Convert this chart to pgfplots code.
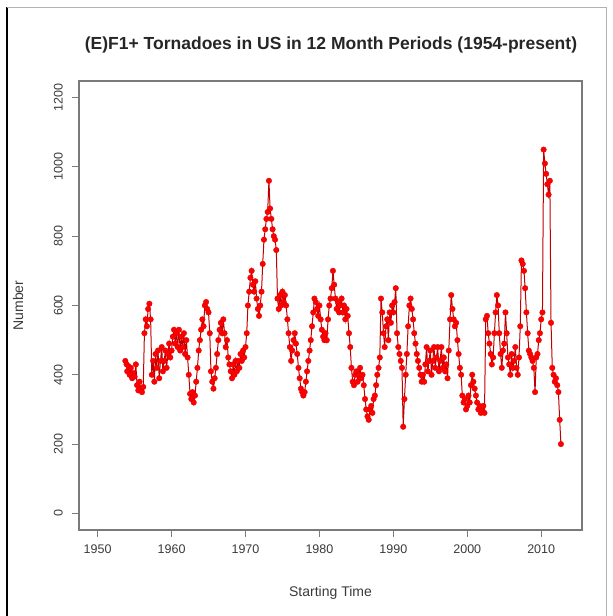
\documentclass[border=0pt]{standalone}
\usepackage{fontspec}
\setmainfont{Liberation Sans}
\usepackage{pgfplots}
\usepackage{pgfplotstable}
\pgfplotsset{compat=1.18}
\definecolor{axgray}{HTML}{7A7A7A}
\definecolor{txtgray}{HTML}{3A3A3A}
\definecolor{linered}{HTML}{C00000}
\pgfplotstableread{
year val
1953.75 440
1953.92 430
1954.00 410
1954.17 425
1954.33 400
1954.50 420
1954.67 390
1954.83 405
1955.00 395
1955.17 430
1955.33 370
1955.50 355
1955.67 380
1955.83 360
1956.00 350
1956.17 365
1956.33 520
1956.50 560
1956.67 540
1956.83 590
1957.00 605
1957.17 560
1957.33 400
1957.50 440
1957.67 380
1957.83 460
1958.00 420
1958.17 470
1958.33 390
1958.50 440
1958.67 480
1958.83 410
1959.00 440
1959.17 470
1959.33 420
1959.50 460
1959.67 490
1959.83 450
1960.00 470
1960.17 510
1960.33 530
1960.50 490
1960.67 520
1960.83 480
1961.00 530
1961.17 470
1961.33 510
1961.50 480
1961.67 520
1961.83 460
1962.00 500
1962.17 450
1962.33 400
1962.50 345
1962.67 330
1962.83 350
1963.00 320
1963.17 340
1963.33 380
1963.50 420
1963.67 470
1963.83 500
1964.00 530
1964.17 560
1964.33 540
1964.50 600
1964.67 610
1964.83 590
1965.00 580
1965.17 520
1965.33 410
1965.50 380
1965.67 360
1965.83 390
1966.00 420
1966.17 460
1966.33 500
1966.50 530
1966.67 550
1966.83 520
1967.00 560
1967.17 520
1967.33 480
1967.50 500
1967.67 450
1967.83 430
1968.00 410
1968.17 390
1968.33 430
1968.50 400
1968.67 440
1968.83 410
1969.00 440
1969.17 420
1969.33 460
1969.50 440
1969.67 470
1969.83 450
1970.00 480
1970.17 520
1970.33 600
1970.50 640
1970.67 680
1970.83 700
1971.00 660
1971.17 640
1971.33 670
1971.50 620
1971.67 590
1971.83 570
1972.00 600
1972.17 640
1972.33 720
1972.50 790
1972.67 820
1972.83 850
1973.00 870
1973.17 960
1973.33 880
1973.50 850
1973.67 820
1973.83 800
1974.00 790
1974.17 760
1974.33 620
1974.50 590
1974.67 630
1974.83 600
1975.00 640
1975.17 610
1975.33 630
1975.50 600
1975.67 560
1975.83 520
1976.00 480
1976.17 440
1976.33 470
1976.50 500
1976.67 520
1976.83 490
1977.00 460
1977.17 420
1977.33 390
1977.50 360
1977.67 350
1977.83 340
1978.00 350
1978.17 380
1978.33 410
1978.50 440
1978.67 470
1978.83 500
1979.00 540
1979.17 580
1979.33 620
1979.50 610
1979.67 590
1979.83 570
1980.00 600
1980.17 560
1980.33 530
1980.50 510
1980.67 500
1980.83 520
1981.00 500
1981.17 560
1981.33 600
1981.50 620
1981.67 650
1981.83 700
1982.00 660
1982.17 620
1982.33 590
1982.50 610
1982.67 580
1982.83 600
1983.00 620
1983.17 580
1983.33 600
1983.50 560
1983.67 590
1983.83 570
1984.00 520
1984.17 480
1984.33 420
1984.50 380
1984.67 370
1984.83 400
1985.00 410
1985.17 380
1985.33 400
1985.50 420
1985.67 390
1985.83 400
1986.00 370
1986.17 330
1986.33 300
1986.50 280
1986.67 270
1986.83 300
1987.00 310
1987.17 290
1987.33 330
1987.50 340
1987.67 370
1987.83 400
1988.00 420
1988.17 450
1988.33 620
1988.50 580
1988.67 520
1988.83 480
1989.00 540
1989.17 560
1989.33 500
1989.50 580
1989.67 550
1989.83 600
1990.00 580
1990.17 610
1990.33 650
1990.50 520
1990.67 480
1990.83 460
1991.00 440
1991.17 420
1991.33 250
1991.50 330
1991.67 400
1991.83 460
1992.00 540
1992.17 600
1992.33 620
1992.50 590
1992.67 560
1992.83 520
1993.00 490
1993.17 460
1993.33 440
1993.50 420
1993.67 400
1993.83 380
1994.00 400
1994.17 380
1994.33 430
1994.50 480
1994.67 410
1994.83 440
1995.00 470
1995.17 400
1995.33 440
1995.50 480
1995.67 420
1995.83 450
1996.00 480
1996.17 410
1996.33 440
1996.50 480
1996.67 420
1996.83 450
1997.00 410
1997.17 430
1997.33 390
1997.50 470
1997.67 560
1997.83 630
1998.00 590
1998.17 560
1998.33 540
1998.50 550
1998.67 500
1998.83 460
1999.00 420
1999.17 400
1999.33 340
1999.50 320
1999.67 330
1999.83 300
2000.00 310
2000.17 340
2000.33 320
2000.50 370
2000.67 400
2000.83 380
2001.00 360
2001.17 340
2001.33 320
2001.50 300
2001.67 310
2001.83 290
2002.00 300
2002.17 310
2002.33 290
2002.50 560
2002.67 570
2002.83 520
2003.00 490
2003.17 460
2003.33 430
2003.50 450
2003.67 520
2003.83 580
2004.00 630
2004.17 600
2004.33 520
2004.50 460
2004.67 420
2004.83 470
2005.00 490
2005.17 580
2005.33 520
2005.50 450
2005.67 430
2005.83 400
2006.00 460
2006.17 420
2006.33 440
2006.50 480
2006.67 420
2006.83 400
2007.00 450
2007.17 540
2007.33 730
2007.50 720
2007.67 700
2007.83 650
2008.00 580
2008.17 520
2008.33 470
2008.50 460
2008.67 450
2008.83 440
2009.00 420
2009.17 350
2009.33 450
2009.50 460
2009.67 500
2009.83 520
2010.00 560
2010.17 580
2010.33 1050
2010.50 1010
2010.67 980
2010.83 950
2011.00 920
2011.17 960
2011.33 550
2011.50 420
2011.67 400
2011.83 380
2012.00 390
2012.17 370
2012.33 350
2012.50 270
2012.67 200
}\tornado
\begin{document}
\begin{tikzpicture}[x=1pt,y=1pt]
\path[use as bounding box] (0,0) rectangle (613,616);
\draw[black, line width=1.6pt] (7,0) -- (7,608.5);
\draw[gray!60, line width=0.6pt] (7,608.5) -- (606,608.5) -- (606,0);
\begin{axis}[
  at={(79pt,86pt)}, anchor=south west,
  width=503pt, height=449pt, scale only axis,
  xmin=1947.48, xmax=2015.52, ymin=-48, ymax=1248,
  axis line style={axgray, line width=1.1pt},
  xtick={1950,1960,...,2010},
  ytick={0,200,...,1200},
  tick align=outside, tick pos=left,
  major tick length=7pt,
  tick style={axgray, line width=0.9pt},
  /pgf/number format/assume math mode=true,
  xticklabel={\pgfmathprintnumber[1000 sep={},fixed]{\tick}},
  yticklabel={\pgfmathprintnumber[1000 sep={},fixed]{\tick}},
  ticklabel style={font=\fontsize{12.5}{14}\selectfont, text=txtgray},
  xticklabel style={anchor=north, yshift=-8pt, inner sep=0pt},
  yticklabel style={rotate=90, anchor=south, inner sep=0pt, yshift=9pt},
  clip=false,
]
\addplot[linered, line width=1pt, mark=*, mark size=2.8pt,
  mark options={fill=red, draw=red!85!black, line width=0.3pt}]
  table[x=year, y=val] {\tornado};
\end{axis}
\node[font=\bfseries\fontsize{17.5}{20}\selectfont, text=black!85] at (331,571) {(E)F1+ Tornadoes in US in 12 Month Periods (1954-present)};
\node[font=\fontsize{14}{16}\selectfont, text=txtgray] at (330.5,23) {Starting Time};
\node[font=\fontsize{14}{16}\selectfont, text=txtgray, rotate=90] at (18,310.5) {Number};
\end{tikzpicture}
\end{document}
